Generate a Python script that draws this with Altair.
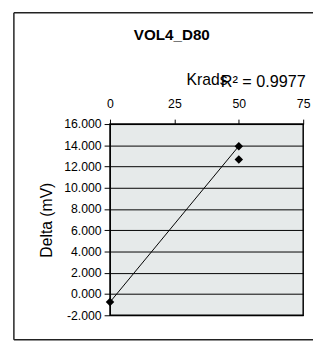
import altair as alt
import pandas as pd

# ---- data ----
krads = [0, 50, 50]
delta = [-0.76, 13.92, 12.66]
trend_krads = [0, 50]
trend_delta = [-0.76, 13.92]
x_ticks = [0, 25, 50, 75]
y_ticks = [-2, 0, 2, 4, 6, 8, 10, 12, 14, 16]
chart_title = "VOL4_D80"
r2_label = "R\u00b2 = 0.9977"

FONT = "Liberation Sans"

pts = pd.DataFrame({"Krads": krads, "Delta": delta})
trend = pd.DataFrame({"Krads": trend_krads, "Delta": trend_delta})
one = pd.DataFrame({"a": [0]})

xenc = alt.X(
    "Krads:Q",
    scale=alt.Scale(domain=[0, 75], nice=False, zero=False),
    axis=alt.Axis(
        orient="top", values=x_ticks, title="Krads", grid=False,
        labelFontSize=12.5, titleFontSize=16, titleFontWeight="normal",
        labelFont=FONT, titleFont=FONT, labelColor="black", titleColor="black",
        tickColor="black", domainColor="black", tickSize=5, labelPadding=9,
        titlePadding=10, labelFlush=False,
    ),
)
yenc = alt.Y(
    "Delta:Q",
    scale=alt.Scale(domain=[-2, 16], nice=False, zero=False),
    axis=alt.Axis(
        values=y_ticks, labelExpr="replace(format(datum.value, '.3f'), '\u2212', '-')",
        title="Delta (mV)", grid=True,
        gridColor="black", gridWidth=1, gridOpacity=1,
        labelFontSize=12.5, titleFontSize=16, titleFontWeight="normal",
        labelFont=FONT, titleFont=FONT, labelColor="black", titleColor="black",
        tickColor="black", domainColor="black", tickSize=6, labelPadding=3,
        titlePadding=9,
    ),
)

line = alt.Chart(trend).mark_line(color="black", strokeWidth=1).encode(x=xenc, y=yenc)
points = alt.Chart(pts).mark_point(
    shape="diamond", filled=True, color="black", size=75, opacity=1
).encode(x=xenc, y=yenc)

r2 = alt.Chart(one).mark_text(
    text=r2_label, font=FONT, fontSize=16.5, align="left", baseline="alphabetic", color="black"
).encode(x=alt.value(113), y=alt.value(-38))

title_txt = alt.Chart(one).mark_text(
    text=chart_title, font=FONT, fontSize=15.5, fontWeight="bold", align="center",
    baseline="alphabetic", color="black"
).encode(x=alt.value(63), y=alt.value(-86))

# outer chart-area frame (decoration)
frame_left = alt.Chart(one).mark_rule(color="#222", strokeWidth=1.5).encode(
    x=alt.value(-98), y=alt.value(-113.5), y2=alt.value(220))
frame_top = alt.Chart(one).mark_rule(color="#222", strokeWidth=1.5).encode(
    x=alt.value(-98), x2=alt.value(220), y=alt.value(-113.5))
frame_bottom = alt.Chart(one).mark_rule(color="#222", strokeWidth=1.5).encode(
    x=alt.value(-98), x2=alt.value(220), y=alt.value(220))

chart = alt.layer(frame_left, frame_top, frame_bottom, line, points, r2, title_txt).properties(
    width=197, height=195,
    autosize=alt.AutoSizeParams(type="none"),
    padding={"left": 104, "top": 115, "right": 10, "bottom": 28},
    background="white",
).configure_view(
    fill="#e6eaea", stroke="black", strokeWidth=1.5
)

chart.save("out.html", embed_options={"renderer": "svg", "actions": False})
